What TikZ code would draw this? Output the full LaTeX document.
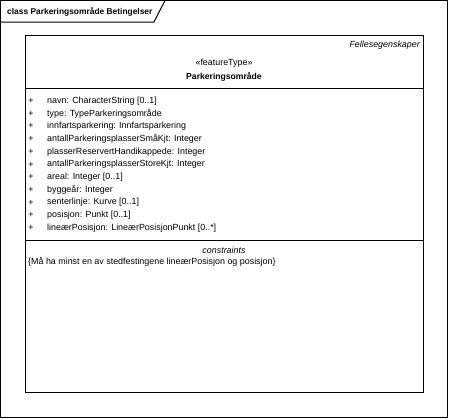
\documentclass[tikz,border=0pt]{standalone}
\usepackage{fontspec}
\setmainfont{Liberation Sans}
\begin{document}
\begin{tikzpicture}[x=1pt,y=-1pt,
    txt/.style={inner sep=0pt,text=black,font=\fontsize{8.9}{10}\selectfont},
    attr/.style={txt,anchor=west},
    rule/.style={line width=1pt,black}]
  \useasboundingbox (0,0) rectangle (449,418);
  % frame and its tab
  \draw[rule] (0.5,0.5) rectangle (447,417);
  \draw[rule] (0.5,22) -- (154,22) -- (165,0.5);
  \node[attr,font=\fontsize{8.4}{10}\selectfont\bfseries] (title) at (7,11.5) {class Parkeringsområde Betingelser};
  % the class
  \draw[rule] (25,35) rectangle (423,392);
  \draw[rule] (25,88) -- (423,88);
  \draw[rule] (25,240) -- (423,240);
  \node[txt,anchor=east,font=\fontsize{8.9}{10}\selectfont\itshape] (pkg) at (420,45) {Fellesegenskaper};
  \node[txt] (stereo) at (224,63) {«featureType»};
  \node[txt,font=\fontsize{8.6}{10}\selectfont\bfseries] (cls) at (224,77) {Parkeringsområde};
  \foreach \t [count=\i from 0] in {navn: CharacterString [0..1],
      type: TypeParkeringsområde,
      innfartsparkering: Innfartsparkering,
      antallParkeringsplasserSmåKjt: Integer,
      plasserReservertHandikappede: Integer,
      antallParkeringsplasserStoreKjt: Integer,
      areal: Integer [0..1],
      byggeår: Integer,
      senterlinje: Kurve [0..1],
      posisjon: Punkt [0..1],
      lineærPosisjon: LineærPosisjonPunkt [0..*]}{
    \node[txt] (p\i) at (31,{101+\i*12.7}) {+};
    \node[attr] (a\i) at (47,{101+\i*12.7}) {\t};
  }
  % constraints
  \node[txt,font=\fontsize{8.9}{10}\selectfont\itshape] (chead) at (224,250) {constraints};
  \node[attr] (c1) at (28,262) {\{Må ha minst en av stedfestingene lineærPosisjon og posisjon\}};
\end{tikzpicture}
\end{document}
